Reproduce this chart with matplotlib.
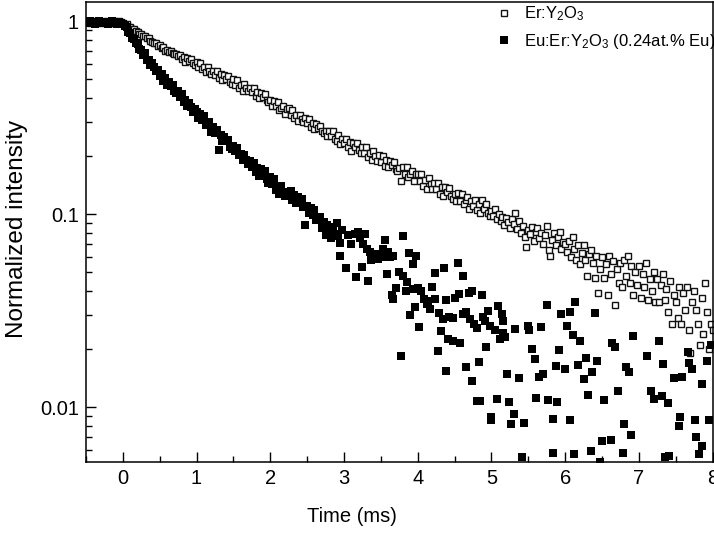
import numpy as np
import matplotlib
matplotlib.use('Agg')
import matplotlib.pyplot as plt
from matplotlib.ticker import FuncFormatter, NullFormatter, LogLocator, MultipleLocator

# Er:Y2O3 decay, sampled every 0.025 ms from -0.5 ms to 8 ms
er_intensity = [
    0.99, 1.00, 0.98, 0.99, 1.00, 0.99, 0.98, 1.00, 0.99, 0.98,
    0.99, 1.00, 0.99, 0.98, 0.99, 1.00, 0.98, 0.99, 1.00, 0.99,
    0.98, 0.96, 0.965, 0.94, 0.935, 0.91, 0.915, 0.89, 0.885, 0.86,
    0.865, 0.84, 0.835, 0.815, 0.82, 0.79, 0.785, 0.77, 0.775, 0.745,
    0.75, 0.725, 0.74, 0.705, 0.712, 0.69, 0.705, 0.687, 0.675, 0.68,
    0.66, 0.672, 0.639, 0.651, 0.619, 0.645, 0.625, 0.637, 0.606, 0.593,
    0.617, 0.581, 0.609, 0.563, 0.58, 0.545, 0.579, 0.556, 0.534, 0.555,
    0.527, 0.554, 0.506, 0.532, 0.495, 0.526, 0.505, 0.52, 0.485, 0.475,
    0.504, 0.466, 0.499, 0.451, 0.47, 0.437, 0.473, 0.45, 0.433, 0.454,
    0.428, 0.449, 0.41, 0.43, 0.40, 0.424, 0.407, 0.418, 0.39, 0.381,
    0.389, 0.365, 0.386, 0.363, 0.383, 0.349, 0.356, 0.366, 0.331, 0.351,
    0.354, 0.326, 0.349, 0.315, 0.327, 0.304, 0.329, 0.313, 0.30, 0.315,
    0.296, 0.31, 0.283, 0.297, 0.276, 0.293, 0.281, 0.288, 0.269, 0.263,
    0.271, 0.254, 0.27, 0.254, 0.269, 0.245, 0.24, 0.257, 0.232, 0.246,
    0.233, 0.245, 0.224, 0.236, 0.214, 0.235, 0.224, 0.234, 0.215, 0.208,
    0.224, 0.207, 0.223, 0.198, 0.208, 0.192, 0.212, 0.20, 0.19, 0.202,
    0.186, 0.20, 0.179, 0.192, 0.175, 0.189, 0.18, 0.187, 0.171, 0.167,
    0.174, 0.149, 0.175, 0.162, 0.175, 0.156, 0.161, 0.168, 0.149, 0.161,
    0.162, 0.148, 0.162, 0.14, 0.151, 0.136, 0.154, 0.143, 0.135, 0.146,
    0.135, 0.145, 0.128, 0.139, 0.125, 0.139, 0.13, 0.137, 0.124, 0.12,
    0.128, 0.117, 0.129, 0.117, 0.128, 0.113, 0.118, 0.123, 0.107, 0.117,
    0.111, 0.118, 0.105, 0.113, 0.101, 0.119, 0.107, 0.113, 0.101, 0.098,
    0.104, 0.098, 0.107, 0.095, 0.1, 0.092, 0.097, 0.088, 0.096, 0.091,
    0.085, 0.095, 0.089, 0.101, 0.084, 0.092, 0.08, 0.087, 0.076, 0.068,
    0.083, 0.079, 0.086, 0.073, 0.081, 0.085, 0.075, 0.08, 0.07, 0.078,
    0.087, 0.065, 0.061, 0.074, 0.08, 0.069, 0.076, 0.081, 0.066, 0.072,
    0.07, 0.064, 0.073, 0.06, 0.076, 0.066, 0.058, 0.069, 0.055, 0.063,
    0.069, 0.058, 0.048, 0.062, 0.065, 0.056, 0.047, 0.061, 0.039, 0.052,
    0.06, 0.047, 0.055, 0.038, 0.061, 0.049, 0.057, 0.034, 0.052, 0.044,
    0.056, 0.042, 0.058, 0.048, 0.061, 0.044, 0.054, 0.038, 0.05, 0.043,
    0.054, 0.037, 0.049, 0.042, 0.056, 0.036, 0.046, 0.04, 0.05, 0.035,
    0.046, 0.035, 0.043, 0.049, 0.036, 0.041, 0.031, 0.045, 0.027, 0.038,
    0.035, 0.029, 0.042, 0.027, 0.039, 0.032, 0.042, 0.025, 0.019, 0.035,
    0.04, 0.032, 0.027, 0.021, 0.037, 0.024, 0.044, 0.031, 0.02, 0.027,
    0.025,
]
er_time = -0.5 + 0.025 * np.arange(len(er_intensity))

# Eu:Er:Y2O3 decay, dense part sampled every 0.025 ms from -0.5 ms
eu_band_intensity = [
    0.98, 0.99, 1.00, 0.98, 0.99, 0.97, 0.99, 1.00, 0.98, 0.99,
    0.98, 0.99, 0.97, 0.99, 1.00, 0.98, 0.99, 0.97, 0.99, 0.98,
    0.97, 0.95, 0.93, 0.88, 0.87, 0.82, 0.81, 0.77, 0.76, 0.72,
    0.714, 0.667, 0.682, 0.631, 0.633, 0.592, 0.605, 0.577, 0.55, 0.557,
    0.519, 0.534, 0.492, 0.506, 0.47, 0.483, 0.464, 0.468, 0.435, 0.425,
    0.438, 0.407, 0.421, 0.384, 0.39, 0.362, 0.379, 0.36, 0.34, 0.35,
    0.338, 0.315, 0.331, 0.308, 0.322, 0.291, 0.294, 0.30, 0.268, 0.282,
    0.265, 0.275, 0.215, 0.259, 0.239, 0.251, 0.239, 0.243, 0.224, 0.217,
    0.227, 0.212, 0.22, 0.202, 0.206, 0.192, 0.202, 0.192, 0.182, 0.188,
    0.176, 0.184, 0.166, 0.173, 0.157, 0.171, 0.161, 0.167, 0.152, 0.146,
    0.156, 0.143, 0.153, 0.134, 0.139, 0.128, 0.14, 0.131, 0.124, 0.13,
    0.124, 0.132, 0.118, 0.126, 0.114, 0.123, 0.116, 0.12, 0.109, 0.088,
    0.111, 0.102, 0.108, 0.099, 0.105, 0.093, 0.095, 0.097, 0.085, 0.091,
    0.078, 0.088, 0.08, 0.075, 0.086, 0.079, 0.09, 0.077, 0.071, 0.083,
]
eu_band_time = -0.5 + 0.025 * np.arange(len(eu_band_intensity))

# noisy tail (only the points that stay above the axis floor)
eu_tail_time = [
    2.94, 3.03, 3.05, 3.10, 3.15, 3.16, 3.19, 3.22, 3.25, 3.26,
    3.28, 3.31, 3.33, 3.35, 3.37, 3.42, 3.46, 3.51, 3.53, 3.55,
    3.58, 3.60, 3.62, 3.65, 3.66, 3.67, 3.71, 3.74, 3.78, 3.80,
    3.80, 3.84, 3.86, 3.88, 3.90, 3.93, 3.94, 3.96, 3.98, 4.01,
    4.02, 4.05, 4.09, 4.12, 4.14, 4.17, 4.19, 4.23, 4.23, 4.28,
    4.29, 4.31, 4.34, 4.36, 4.38, 4.39, 4.41, 4.43, 4.48, 4.48,
    4.51, 4.54, 4.56, 4.58, 4.62, 4.62, 4.65, 4.66, 4.69, 4.71,
    4.73, 4.74, 4.76, 4.80, 4.81, 4.83, 4.84, 4.87, 4.89, 4.91,
    4.93, 4.95, 4.98, 4.99, 5.00, 5.05, 5.07, 5.09, 5.12, 5.14,
    5.16, 5.16, 5.18, 5.21, 5.24, 5.27, 5.30, 5.32, 5.38, 5.42,
    5.44, 5.49, 5.51, 5.55, 5.59, 5.61, 5.64, 5.67, 5.70, 5.75,
    5.77, 5.83, 5.84, 5.88, 5.89, 5.92, 5.95, 6.00, 6.02, 6.06,
    6.07, 6.10, 6.12, 6.13, 6.18, 6.20, 6.25, 6.28, 6.31, 6.35,
    6.37, 6.40, 6.43, 6.47, 6.50, 6.53, 6.62, 6.63, 6.68, 6.72,
    6.78, 6.80, 6.82, 6.86, 6.90, 6.92, 7.11, 7.16, 7.21, 7.27,
    7.31, 7.33, 7.35, 7.39, 7.41, 7.48, 7.54, 7.56, 7.58, 7.67,
    7.68, 7.72, 7.76, 7.78, 7.81, 7.85, 7.86, 7.93, 7.95, 7.98,
]
eu_tail_intensity = [
    0.0605, 0.0529, 0.078, 0.070, 0.079, 0.0471, 0.081, 0.075, 0.0532, 0.070,
    0.079, 0.066, 0.0449, 0.064, 0.058, 0.062, 0.059, 0.060, 0.066, 0.0733,
    0.0492, 0.064, 0.060, 0.0383, 0.0365, 0.061, 0.0414, 0.0501, 0.0185, 0.0769,
    0.0476, 0.0398, 0.0445, 0.063, 0.0299, 0.0555, 0.0411, 0.033, 0.0605, 0.0416,
    0.0262, 0.040, 0.0365, 0.0344, 0.0357, 0.0324, 0.0419, 0.0496, 0.0365, 0.0195,
    0.0307, 0.0248, 0.0287, 0.0524, 0.0155, 0.0361, 0.0226, 0.0293, 0.022, 0.0291,
    0.0369, 0.0559, 0.0384, 0.0214, 0.0481, 0.0305, 0.0311, 0.0161, 0.039, 0.0287,
    0.0136, 0.040, 0.0271, 0.0257, 0.0108, 0.0172, 0.0108, 0.0383, 0.0293, 0.0281,
    0.0205, 0.0315, 0.0265, 0.0086, 0.0089, 0.025, 0.011, 0.0333, 0.0226, 0.0305,
    0.0281, 0.0242, 0.0231, 0.0148, 0.0107, 0.0082, 0.0092, 0.0253, 0.0142, 0.0055,
    0.0083, 0.0263, 0.025, 0.0201, 0.0178, 0.0112, 0.0144, 0.026, 0.0148, 0.0337,
    0.0109, 0.0058, 0.0087, 0.0163, 0.0107, 0.0197, 0.0303, 0.0158, 0.0263, 0.0086,
    0.0311, 0.0238, 0.0057, 0.035, 0.0166, 0.0221, 0.014, 0.0181, 0.0116, 0.0059,
    0.0153, 0.0309, 0.0174, 0.0052, 0.0067, 0.0109, 0.0068, 0.0214, 0.0206, 0.0121,
    0.0058, 0.0082, 0.0161, 0.0152, 0.0072, 0.0235, 0.0185, 0.0121, 0.011, 0.0221,
    0.0115, 0.0168, 0.0055, 0.0105, 0.0056, 0.0141, 0.008, 0.0089, 0.0143, 0.0194,
    0.0169, 0.0157, 0.0086, 0.007, 0.0057, 0.0132, 0.0063, 0.0173, 0.0086, 0.0209,
]

eu_time = np.concatenate([eu_band_time, eu_tail_time])
eu_intensity = np.concatenate([eu_band_intensity, eu_tail_intensity])

plt.rcParams['font.family'] = ['Liberation Sans', 'DejaVu Sans']
plt.rcParams['mathtext.default'] = 'regular'

fig = plt.figure(figsize=(7.14, 5.36), dpi=100)
ax = fig.add_axes([0.1204, 0.138, 0.8776, 0.8583])

ax.plot(er_time, er_intensity, linestyle='none', marker='s', markersize=4.8,
        markerfacecolor='white', markeredgecolor='#111111', markeredgewidth=1.0,
        label='Er:Y$_2$O$_3$')
ax.plot(eu_time, eu_intensity, linestyle='none', marker='s', markersize=5.3,
        markerfacecolor='black', markeredgewidth=0, color='black',
        label='Eu:Er:Y$_2$O$_3$ (0.24at.% Eu)')

ax.set_yscale('log')
ax.set_xlim(-0.5, 8)
ax.set_ylim(0.0052, 1.26)

ax.xaxis.set_major_locator(MultipleLocator(1))
ax.xaxis.set_minor_locator(MultipleLocator(0.5))
ax.yaxis.set_major_locator(LogLocator(base=10))
ax.yaxis.set_minor_locator(LogLocator(base=10, subs=np.arange(2, 10)))
ax.yaxis.set_major_formatter(FuncFormatter(lambda v, p: f'{v:g}'))
ax.yaxis.set_minor_formatter(NullFormatter())

ax.tick_params(which='both', direction='in', top=False, right=False,
               labelsize=14.5, width=1.0)
ax.tick_params(which='major', length=7, pad=5)
ax.tick_params(which='minor', length=4)
for s in ax.spines.values():
    s.set_linewidth(1.1)

ax.set_xlabel('Time (ms)', fontsize=14.5, va='top')
ax.xaxis.set_label_coords(0.4245, -0.098)
ax.set_ylabel('Normalized intensity', fontsize=17.5)
ax.yaxis.set_label_coords(-0.093, 0.5065)

ax.legend(loc='upper left', bbox_to_anchor=(0.6536, 0.994), frameon=False,
          fontsize=12, handlelength=1.0, handletextpad=0.7, labelspacing=0.5,
          borderpad=0, borderaxespad=0, numpoints=1)

fig.savefig('out.png', dpi=100)
